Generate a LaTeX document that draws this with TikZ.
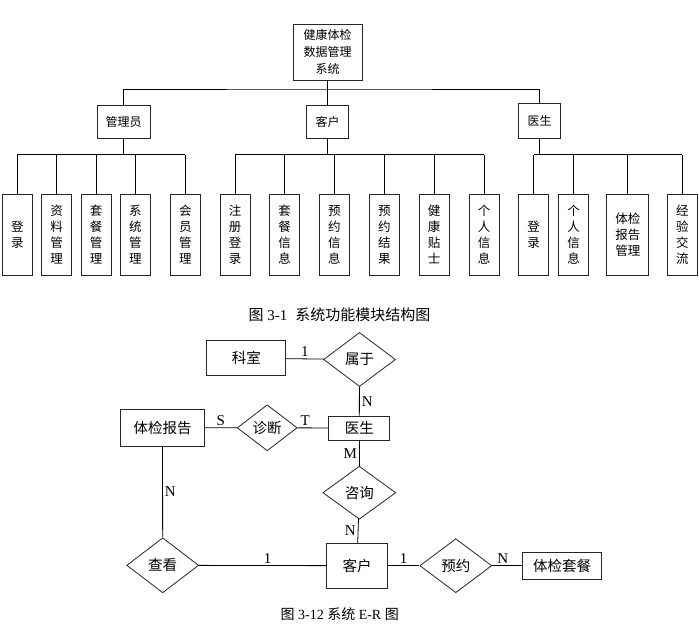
\documentclass[tikz,border=0pt]{standalone}
\usepackage{fontspec}
\setmainfont{Liberation Serif}
\newfontfamily\cjk{Noto Sans CJK SC}
\usetikzlibrary{shapes.geometric}
\tikzset{
  box/.style={draw=black!85,line width=0.8pt,font=\cjk\fontsize{12}{17}\selectfont,
    align=center,inner sep=0pt},
  leaf/.style={box,minimum width=30,minimum height=81,anchor=north,
    font=\cjk\fontsize{12.5}{16}\selectfont},
  bus/.style={line width=1.3pt},
  entity/.style={draw=black!85,line width=0.8pt,inner sep=0pt,
    font=\cjk\fontsize{14.5}{17}\selectfont},
  rel/.style={entity,diamond},
  card/.style={font=\fontsize{15}{15}\selectfont,inner sep=2pt}
}

\begin{document}
\begin{tikzpicture}[x=1pt,y=-1pt,line width=0.8pt]
\useasboundingbox (0,0) rectangle (699,642);

% module structure
\node[box,minimum width=69,minimum height=56] (top) at (327.5,52) {健康体检\\数据管理\\系统};
\node[box,minimum width=53,minimum height=33] (admin) at (123.5,122) {管理员};
\node[box,minimum width=42,minimum height=33] (client) at (327.5,122) {客户};
\node[box,minimum width=42,minimum height=35] (doctor) at (539.7,121) {医生};

\coordinate (bt) at (327.5,89);
\draw (top.south) -- (bt);
\draw (admin.north) |- (bt) -| (doctor.north);
\draw (client.north) -- (bt);

\coordinate (ba) at (123.5,154.7);
\coordinate (bc) at (327.5,154.7);
\coordinate (bd) at (539.7,154.7);
\draw[bus] (admin.south) -- (ba);
\draw[bus] (client.south) -- (bc);
\draw[bus] (doctor.south) -- (bd);

\foreach \nm/\x/\txt in {a1/17.3/{登\\录}, a2/56.7/{资\\料\\管\\理}, a3/96/{套\\餐\\管\\理},
    a4/135.3/{系\\统\\管\\理}, a5/185.3/{会\\员\\管\\理}} {
  \node[leaf] (\nm) at (\x,194) {\txt};
  \draw (\nm.north) -- (\x,154.7);
}
\draw[bus] (a1.north|-ba) -- (a5.north|-ba);

\foreach \nm/\x/\txt in {c1/235/{注\\册\\登\\录}, c2/284.7/{套\\餐\\信\\息}, c3/334.4/{预\\约\\信\\息},
    c4/384.3/{预\\约\\结\\果}, c5/434/{健\\康\\贴\\士}, c6/484/{个\\人\\信\\息}} {
  \node[leaf] (\nm) at (\x,194) {\txt};
  \draw (\nm.north) -- (\x,154.7);
}
\draw[bus] (c1.north|-bc) -- (c6.north|-bc);

\foreach \nm/\x/\txt in {d1/533.7/{登\\录}, d2/573.7/{个\\人\\信\\息}, d4/682.3/{经\\验\\交\\流}} {
  \node[leaf] (\nm) at (\x,194) {\txt};
  \draw (\nm.north) -- (\x,154.7);
}
\node[leaf,minimum width=42] (d3) at (627.8,194) {体检\\报告\\管理};
\draw (d3.north) -- (d3.north|-bd);
\draw[bus] (d1.north|-bd) -- (d4.north|-bd);

\node[font=\fontsize{15}{15}\selectfont] (cap1) at (339.5,315) {{\cjk 图} 3-1\hspace{8pt}{\cjk 系统功能模块结构图}};

% E-R diagram
\node[entity,minimum width=79,minimum height=35] (keshi) at (246.3,358.2) {科室};
\node[rel,minimum width=72,minimum height=54] (shuyu) at (359.5,359.5) {属于};
\node[entity,minimum width=61,minimum height=24] (yisheng) at (359.3,428) {医生};
\node[rel,minimum width=60,minimum height=46] (zhenduan) at (267.2,427.8) {诊断};
\node[entity,minimum width=84,minimum height=37] (baogao) at (162.5,427.7) {体检报告};
\node[rel,minimum width=73,minimum height=53] (zixun) at (359.3,492.7) {咨询};
\node[entity,minimum width=61,minimum height=45] (kehu) at (357,565.7) {客户};
\node[rel,minimum width=72,minimum height=55] (chakan) at (162.7,565.3) {查看};
\node[rel,minimum width=72,minimum height=54] (yuyue) at (455.8,565.7) {预约};
\node[entity,minimum width=79,minimum height=27] (taocan) at (562.2,565.7) {体检套餐};

\draw (keshi) -- node[card,above] {1} (shuyu);
\draw (shuyu) -- node[card,right] {N} (yisheng);
\draw (baogao) -- node[card,above] {S} (zhenduan);
\draw (zhenduan) -- node[card,above,pos=0.25] {T} (yisheng);
\draw (yisheng) -- node[card,left] {M} (zixun);
\draw (zixun) -- node[card,left] {N} (kehu);
\draw (baogao) -- node[card,right] {N} (chakan);
\draw (chakan) -- node[card,above,pos=0.54] {1} (kehu);
\draw (kehu) -- node[card,above] {1} (yuyue);
\draw (yuyue) -- node[card,above,pos=0.35] {N} (taocan);

\node[font=\fontsize{14}{14}\selectfont] (cap2) at (339.7,614) {{\cjk 图} 3-12 {\cjk 系统} E-R {\cjk 图}};
\end{tikzpicture}
\end{document}
